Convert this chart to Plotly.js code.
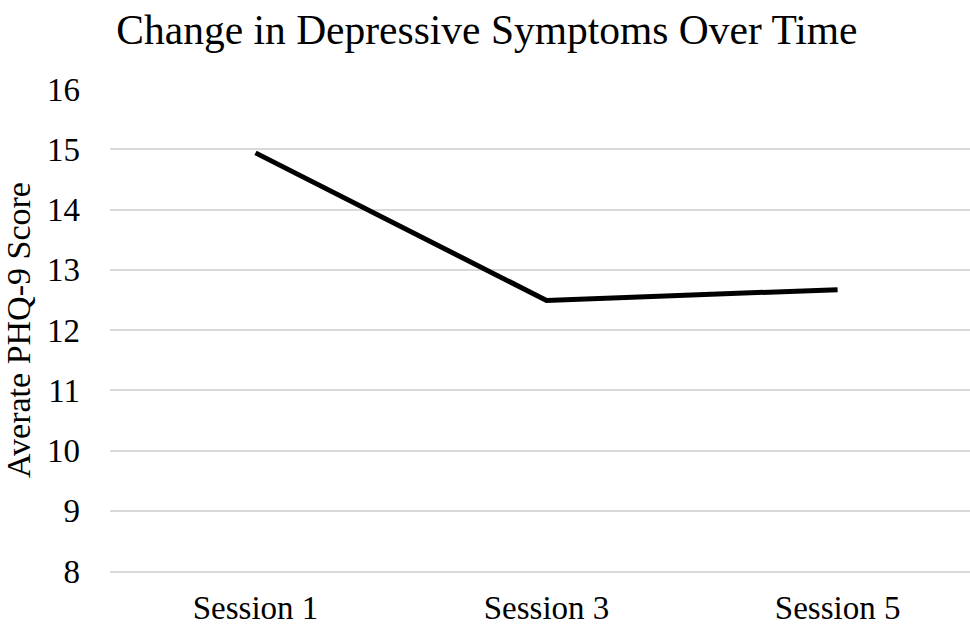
<!DOCTYPE html>
<html>
<head>
<meta charset="utf-8">
<script src="https://cdn.plot.ly/plotly-3.0.1.min.js"></script>
<style>html,body{margin:0;padding:0;background:#fff;}#chart{width:970px;height:625px;}</style>
</head>
<body>
<div id="chart"></div>
<script>
const sessions = ["Session 1", "Session 3", "Session 5"];
const phq9Scores = [14.94, 12.49, 12.67];
const yTicks = [8, 9, 10, 11, 12, 13, 14, 15, 16];

const font = "Liberation Serif, Times New Roman, serif";

Plotly.newPlot("chart", [{
  x: sessions,
  y: phq9Scores,
  type: "scatter",
  mode: "lines",
  line: {color: "#000000", width: 5},
  hoverinfo: "skip"
}], {
  width: 970,
  height: 625,
  margin: {l: 110, r: 0, t: 89, b: 54},
  paper_bgcolor: "#ffffff",
  plot_bgcolor: "#ffffff",
  showlegend: false,
  title: {
    text: "Change in Depressive Symptoms Over Time",
    font: {family: font, size: 41.5, color: "#000000"},
    x: 0.502, xanchor: "center",
    y: 0.953, yanchor: "middle",
    xref: "container", yref: "container"
  },
  xaxis: {
    type: "category",
    range: [-0.5, 2.455],
    showgrid: false,
    zeroline: false,
    showline: true,
    linecolor: "#d9d9d9",
    linewidth: 2,
    ticks: "",
    tickfont: {family: font, size: 33, color: "#000000"},
    ticklabelstandoff: 6
  },
  yaxis: {
    range: [8, 16],
    tickvals: yTicks,
    ticktext: yTicks.map(String),
    showgrid: true,
    gridcolor: "#d9d9d9",
    gridwidth: 2,
    zeroline: false,
    showline: false,
    ticks: "",
    tickfont: {family: font, size: 33, color: "#000000"},
    ticklabelstandoff: 29,
    title: {
      text: "Averate PHQ-9 Score",
      font: {family: font, size: 34, color: "#000000"},
      standoff: 7
    }
  }
}, {displayModeBar: false, staticPlot: true});
</script>
</body>
</html>
